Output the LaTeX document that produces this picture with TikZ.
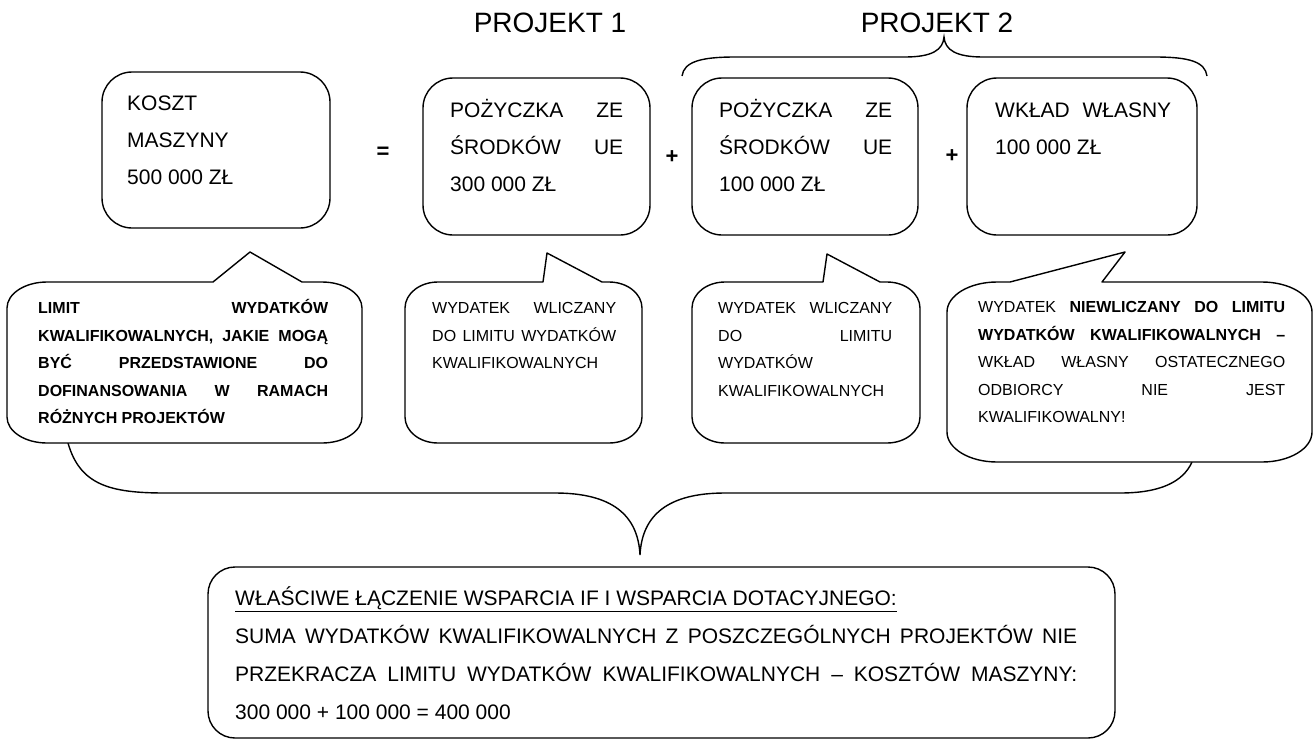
\documentclass[tikz,border=0pt]{standalone}
\usepackage{fontspec}
\setmainfont{Liberation Sans}
\newcommand\calloutshape[9]{%
 \pgfmathsetmacro\ckx{0.4477*#5}\pgfmathsetmacro\cky{0.4477*#6}%
 \draw[outline] ({#1+#5},#2) -- (#7,#2) -- (#9) -- (#8,#2) -- ({#3-#5},#2)
   .. controls ({#3-\ckx},#2) and (#3,{#2+\cky}) .. (#3,{#2+#6})
   -- (#3,{#4-#6}) .. controls (#3,{#4-\cky}) and ({#3-\ckx},#4) .. ({#3-#5},#4)
   -- ({#1+#5},#4) .. controls ({#1+\ckx},#4) and (#1,{#4-\cky}) .. (#1,{#4-#6})
   -- (#1,{#2+#6}) .. controls (#1,{#2+\cky}) and ({#1+\ckx},#2) .. ({#1+#5},#2) -- cycle;}
\tikzset{
 outline/.style={draw=black, line width=1.4pt, fill=white, line join=round},
 bracepath/.style={draw=black, line width=1.4pt},
 boxtext/.style={anchor=north west, inner sep=0pt, align=justify, font=\fontsize{21}{37}\selectfont},
 calltext/.style={anchor=north west, inner sep=0pt, align=justify, font=\fontsize{16}{27.5}\selectfont},
 sumtext/.style={anchor=north west, inner sep=0pt, align=justify, font=\fontsize{21}{38}\selectfont},
 sign/.style={inner sep=0pt, font=\fontsize{22}{22}\selectfont\bfseries},
 title/.style={inner sep=0pt, font=\fontsize{28}{28}\selectfont},
}
\begin{document}
\begin{tikzpicture}[x=1pt,y=-1pt]
\useasboundingbox (0,0) rectangle (1314,745);
% top brace (PROJEKT 2)
\coordinate (tbL) at (682,76);
\coordinate (tbT) at (944,37);
\coordinate (tbR) at (1207,76);
\draw[bracepath] (tbL) .. controls (684,62) and (700,57) .. (735,57) -- (905,57)
  .. controls (932,57) and (943,50) .. (tbT)
  .. controls (945,50) and (956,57) .. (983,57) -- (1155,57)
  .. controls (1190,57) and (1205,62) .. (tbR);
% bottom brace
\coordinate (bbL) at (68,443);
\coordinate (bbT) at (640,555);
\coordinate (bbR) at (1192,462);
\draw[bracepath] (bbL) .. controls (80,485) and (110,493) .. (165,493) -- (555,493)
  .. controls (612,493) and (638,515) .. (bbT)
  .. controls (642,515) and (668,493) .. (725,493) -- (1120,493)
  .. controls (1160,493) and (1183,482) .. (bbR);
% titles
\node[title] (p1) at (550,23) {PROJEKT 1};
\node[title] (p2) at (937,23) {PROJEKT 2};
% top boxes
\draw[outline, rounded corners=30] (102,72) rectangle (330,228);
\draw[outline, rounded corners=30] (423,78) rectangle (650,235);
\draw[outline, rounded corners=30] (692,78) rectangle (918,235);
\draw[outline, rounded corners=30] (967,78) rectangle (1197,235);
\node[boxtext, text width=180] (t1) at (127,89.5) {\rule{0pt}{21pt}KOSZT\newline MASZYNY\newline 500 000 ZŁ};
\node[boxtext, text width=173] (t2) at (450,96.5) {\rule{0pt}{21pt}POŻYCZKA ZE\linebreak ŚRODKÓW UE\linebreak 300 000 ZŁ};
\node[boxtext, text width=173] (t3) at (719,96.5) {\rule{0pt}{21pt}POŻYCZKA ZE\linebreak ŚRODKÓW UE\linebreak 100 000 ZŁ};
\node[boxtext, text width=176] (t4) at (995,96.5) {\rule{0pt}{21pt}WKŁAD WŁASNY\linebreak 100 000 ZŁ};
% signs
\node[sign] (eq) at (383,153) {=};
\node[sign] (plus1) at (672,157) {+};
\node[sign] (plus2) at (952,156) {+};
% callouts
\calloutshape{7}{282}{362}{443}{40}{26}{213}{302}{250,252}
\calloutshape{405}{282}{642}{443}{33}{26}{543}{602}{547,253}
\calloutshape{692}{282}{920}{443}{33}{26}{823}{880}{827,254}
\calloutshape{947}{282}{1312}{462}{50}{30}{1010}{1102}{1125,252}
\node[calltext, text width=290, font=\fontsize{16}{27.5}\selectfont\bfseries] (c1) at (38,297.7)
 {\rule{0pt}{16pt}LIMIT WYDATKÓW\linebreak KWALIFIKOWALNYCH, JAKIE MOGĄ\linebreak BYĆ PRZEDSTAWIONE DO\linebreak DOFINANSOWANIA W RAMACH\linebreak RÓŻNYCH PROJEKTÓW};
\node[calltext, text width=184] (c2) at (432,297.7)
 {\rule{0pt}{16pt}WYDATEK WLICZANY\linebreak DO LIMITU WYDATKÓW\linebreak KWALIFIKOWALNYCH};
\node[calltext, text width=174] (c3) at (718,297.7)
 {\rule{0pt}{16pt}WYDATEK WLICZANY\linebreak DO LIMITU\linebreak WYDATKÓW\newline KWALIFIKOWALNYCH};
\node[calltext, text width=307] (c4) at (978,296.7)
 {\rule{0pt}{16pt}WYDATEK \textbf{NIEWLICZANY DO LIMITU}\linebreak \textbf{WYDATKÓW KWALIFIKOWALNYCH –}\linebreak WKŁAD WŁASNY OSTATECZNEGO\linebreak ODBIORCY NIE JEST\linebreak KWALIFIKOWALNY!};
% bottom box
\draw[outline, rounded corners=27] (208,567) rectangle (1115,738);
\node[sumtext, text width=842] (sum) at (235,584.5)
 {\rule{0pt}{21pt}\underline{WŁAŚCIWE ŁĄCZENIE WSPARCIA IF I WSPARCIA DOTACYJNEGO:}\newline
 SUMA WYDATKÓW KWALIFIKOWALNYCH Z POSZCZEGÓLNYCH PROJEKTÓW NIE\linebreak
 PRZEKRACZA LIMITU WYDATKÓW KWALIFIKOWALNYCH – KOSZTÓW MASZYNY:\linebreak
 300 000 + 100 000 = 400 000};
\end{tikzpicture}
\end{document}
